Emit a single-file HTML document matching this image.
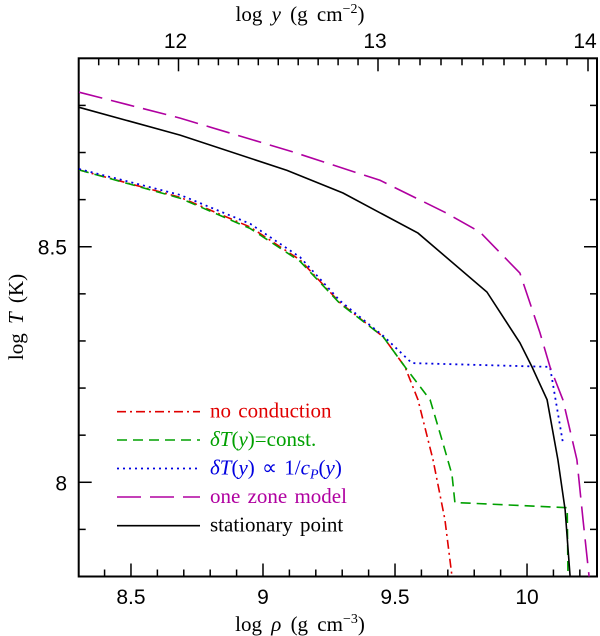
<!DOCTYPE html>
<html><head><meta charset="utf-8"><style>
html,body{margin:0;padding:0;background:#fff;}
svg{display:block;}
</style></head><body>
<svg id="chart" width="600" height="636" viewBox="0 0 600 636" xmlns="http://www.w3.org/2000/svg"></svg>
<script>
// ---- data ----
const xRange = [8.302, 10.265];
const yRange = [7.8, 8.9];
const xTicks = [8.5, 9, 9.5, 10];
const yTicks = [8, 8.5];
const topTicks = [12, 13, 14];
const topTickPx = [178.5, 378, 588];

const stationaryRho = [8.303,8.686,9.091,9.303,9.587,9.848,9.973,10.019,10.076,10.117,10.144,10.163];
const stationaryT   = [8.796,8.737,8.662,8.614,8.529,8.404,8.296,8.245,8.175,8.048,7.942,7.800];
const oneZoneRho = [8.303,8.686,9.114,9.443,9.689,9.822,9.973,10.011,10.049,10.087,10.136,10.189,10.212,10.235];
const oneZoneT   = [8.828,8.773,8.701,8.641,8.573,8.531,8.444,8.381,8.317,8.245,8.175,8.048,7.921,7.800];
const noCondRho = [8.303,8.686,8.951,9.140,9.292,9.455,9.538,9.587,9.644,9.689,9.716];
const noCondT   = [8.663,8.605,8.542,8.472,8.381,8.309,8.245,8.175,8.048,7.921,7.800];
const constRho = [8.303,8.686,8.951,9.140,9.292,9.455,9.538,9.633,9.678,9.716,9.727,10.152,10.155];
const constT   = [8.663,8.603,8.539,8.469,8.379,8.309,8.245,8.175,8.090,8.016,7.957,7.946,7.800];
const cpRho = [8.303,8.686,8.951,9.140,9.292,9.455,9.564,10.087,10.136];
const cpT   = [8.665,8.610,8.549,8.478,8.385,8.311,8.253,8.245,8.084];

// ---- layout ----
const L=78.7, R=597, T=58.3, B=576.5;
const NS="http://www.w3.org/2000/svg";
const svg=document.getElementById('chart');
function X(v){return L+(v-xRange[0])/(xRange[1]-xRange[0])*(R-L);}
function Y(v){return B-(v-yRange[0])/(yRange[1]-yRange[0])*(B-T);}
function el(tag,attrs,parent){const e=document.createElementNS(NS,tag);for(const k in attrs)e.setAttribute(k,attrs[k]);(parent||svg).appendChild(e);return e;}

const axes=el('g',{});


const frame=el('rect',{x:L,y:T,width:R-L,height:B-T,fill:'none',stroke:'#000','stroke-width':2},axes);



for(let i=83;i<=102;i++){
  const v=i/10; if(v<xRange[0]||v>xRange[1])continue;
  const major=Math.abs(v*2-Math.round(v*2))<1e-6;
  const len=major?13:7;
  const t=el('line',{x1:X(v),x2:X(v),y1:B,y2:B-len,stroke:'#000','stroke-width':1.5},axes);
  
  
}
xTicks.forEach(v=>{
  const t=el('text',{x:X(v),y:604,'text-anchor':'middle','font-family':'Liberation Sans, sans-serif','font-size':21},axes);
  t.textContent=String(v);
  
  
});
for(let i=78;i<=89;i++){
  const v=i/10; if(v<yRange[0]-1e-9||v>yRange[1]+1e-9)continue;
  const major=Math.abs(v*2-Math.round(v*2))<1e-6;
  const len=major?13:7;
  [[L,L+len],[R,R-len]].forEach(p=>{
    const t=el('line',{x1:p[0],x2:p[1],y1:Y(v),y2:Y(v),stroke:'#000','stroke-width':1.5},axes);
    
    
  });
}
yTicks.forEach(v=>{
  const t=el('text',{x:67,y:Y(v)+8,'text-anchor':'end','font-family':'Liberation Sans, sans-serif','font-size':21},axes);
  t.textContent=String(v);
  
  
});
function TX(v){
  if(v<=topTicks[1]) return topTickPx[0]+(v-topTicks[0])*(topTickPx[1]-topTickPx[0]);
  return topTickPx[1]+(v-topTicks[1])*(topTickPx[2]-topTickPx[1]);
}
for(let i=115;i<=141;i++){
  const v=i/10; const px=TX(v); if(px<L+2||px>R-1)continue;
  const major=Math.abs(v-Math.round(v))<1e-6;
  const len=major?13:7;
  const t=el('line',{x1:px,x2:px,y1:T,y2:T+len,stroke:'#000','stroke-width':1.5},axes);
  
  
}
topTicks.forEach(v=>{
  const t=el('text',{x:TX(v)-3,y:48,'text-anchor':'middle','font-family':'Liberation Sans, sans-serif','font-size':21},axes);
  t.textContent=String(v);
  
  
});

const f='Liberation Serif, serif';
let tt=el('text',{x:300,y:631,'text-anchor':'middle','font-family':f,'font-size':21,'word-spacing':4});
tt.innerHTML='log <tspan font-style="italic">ρ</tspan> (g cm<tspan dy="-8" font-size="14">−3</tspan><tspan dy="8">)</tspan>';


tt=el('text',{x:300,y:21,'text-anchor':'middle','font-family':f,'font-size':21,'word-spacing':4});
tt.innerHTML='log <tspan font-style="italic">y</tspan> (g cm<tspan dy="-8" font-size="14">−2</tspan><tspan dy="8">)</tspan>';


tt=el('text',{x:0,y:0,'text-anchor':'middle','font-family':f,'font-size':21,'word-spacing':4,transform:'translate(23,317) rotate(-90)'});
tt.innerHTML='log <tspan font-style="italic">T</tspan> (K)';



const clip=el('clipPath',{id:'clip'});
el('rect',{x:L,y:T,width:R-L,height:B-T},clip);
const series=[
 {name:'no-conduction',xs:noCondRho,ys:noCondT,color:'#e00000',dash:'9 4 2 4',w:1.6},
 {name:'const-delta-t',xs:constRho,ys:constT,color:'#00a000',dash:'10 6',w:1.6},
 {name:'cp-delta-t',xs:cpRho,ys:cpT,color:'#0000e0',dash:'2 4',w:1.8},
 {name:'one-zone-model',xs:oneZoneRho,ys:oneZoneT,color:'#b000a0',dash:'24 9',w:1.6},
 {name:'stationary-point',xs:stationaryRho,ys:stationaryT,color:'#000',dash:'none',w:1.6}
];
series.forEach(s=>{
  const d=s.xs.map((x,i)=>(i?'L':'M')+X(x).toFixed(1)+','+Y(s.ys[i]).toFixed(1)).join(' ');
  const p=el('path',{d:d,fill:'none',stroke:s.color,'stroke-width':s.w,'stroke-dasharray':s.dash,'clip-path':'url(#clip)'});
  
  
});

const legend=el('g',{});


const labels=['no conduction','<tspan font-style="italic">δT</tspan>(<tspan font-style="italic">y</tspan>)=const.','<tspan font-style="italic">δT</tspan>(<tspan font-style="italic">y</tspan>) ∝ 1/<tspan font-style="italic">c<tspan dy="4" font-size="14">P</tspan></tspan><tspan dy="-4">(</tspan><tspan font-style="italic">y</tspan>)','one zone model','stationary point'];
const rowsY=[411.7,440,468.5,497,525.7];
series.forEach((s,i)=>{
  const ln=el('line',{x1:117,x2:200,y1:rowsY[i],y2:rowsY[i],stroke:s.color,'stroke-width':s.w,'stroke-dasharray':s.dash},legend);
  
  
  const t=el('text',{x:210,y:rowsY[i]+6,'font-family':f,'font-size':21,'word-spacing':2,fill:s.color},legend);
  t.innerHTML=labels[i];
  
  
});
</script>
</body></html>
